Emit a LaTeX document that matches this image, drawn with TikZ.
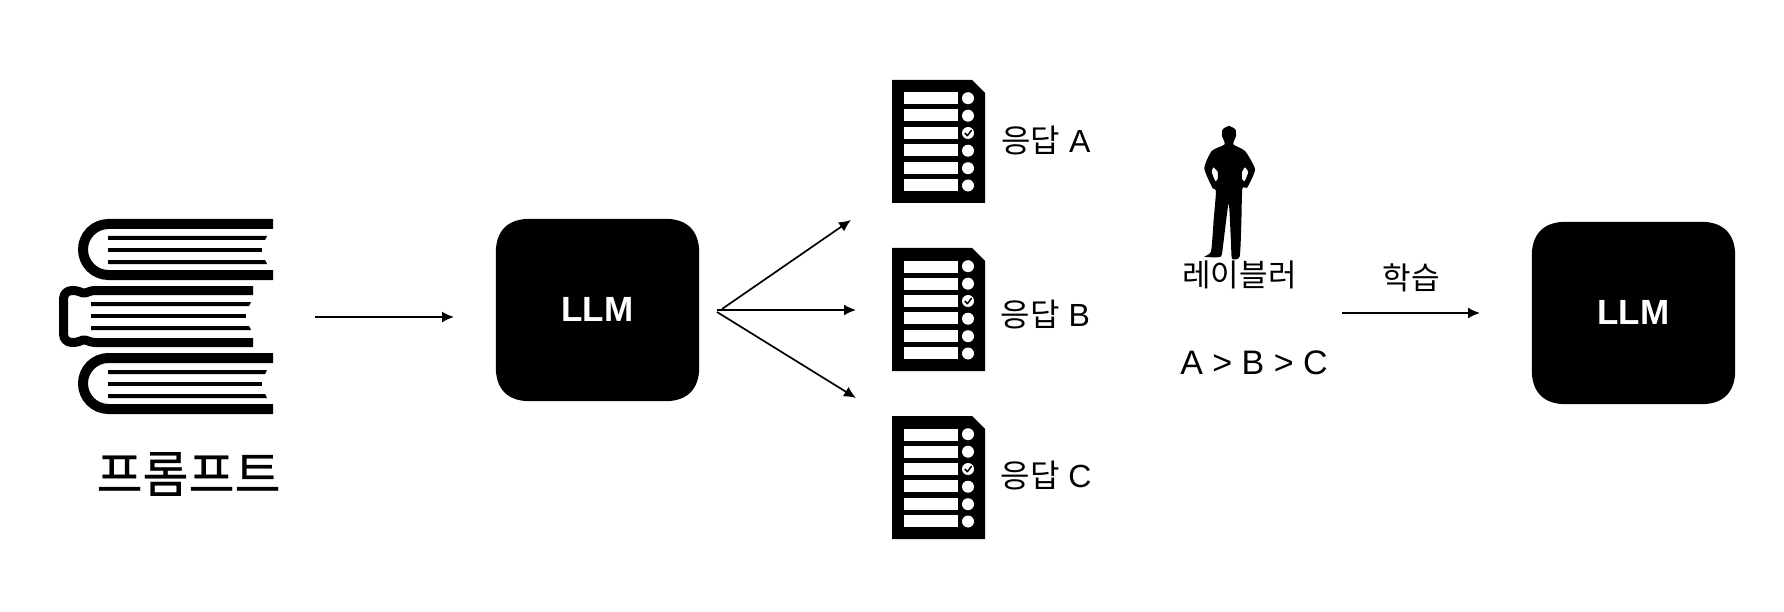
\documentclass[tikz,border=0pt]{standalone}
\usepackage{fontspec}
\setmainfont{Liberation Sans}
\newfontfamily\kr{Noto Sans CJK KR}
\newfontfamily\krb[FakeBold=0.6]{Noto Sans CJK KR}
\usetikzlibrary{arrows.meta,calc,backgrounds}
\newcommand{\squirclefill}[1]{%
  \fill ($(#1.north west)+(0,34)$) .. controls ($(#1.north west)+(0,12)$) and ($(#1.north west)+(12,0)$) .. ($(#1.north west)+(34,0)$)
   -- ($(#1.north east)+(-34,0)$) .. controls ($(#1.north east)+(-12,0)$) and ($(#1.north east)+(0,12)$) .. ($(#1.north east)+(0,34)$)
   -- ($(#1.south east)+(0,-34)$) .. controls ($(#1.south east)+(0,-12)$) and ($(#1.south east)+(-12,0)$) .. ($(#1.south east)+(-34,0)$)
   -- ($(#1.south west)+(34,0)$) .. controls ($(#1.south west)+(12,0)$) and ($(#1.south west)+(0,-12)$) .. ($(#1.south west)+(0,-34)$) -- cycle;}
\tikzset{
  x=1pt,y=-1pt,
  llmbox/.style={inner sep=0pt,minimum width=203pt,minimum height=182pt,text=white,font=\fontsize{35}{35}\selectfont\bfseries},
  lbl/.style={inner sep=0pt,font=\fontsize{32}{32}\selectfont,anchor=center},
  conn/.style={line width=1.7pt,-{Latex[length=12pt,width=11pt]}},
  pics/dockit/.style={code={
    \fill (0,0) -- (80,0) -- (93,13) -- (93,123) -- (0,123) -- cycle;
    \foreach \ya in {12.5,29.5,47,64,82,99}{
      \fill[white] (12,\ya) rectangle (66,\ya+12);
    }
    \foreach \ya in {18.2,35.7,70.7,88.2,105.5}{
      \fill[white] (76,\ya) circle[radius=6];
    }
    \fill[white] (76,53) circle[radius=6];
    \draw[black,line width=1.5pt,line cap=round,line join=round] (73,53.2) -- (75.3,55.7) -- (79.3,50.5);
  }},
  pics/openbook/.style={code={
    \draw[line width=10pt] (195,5) -- (30.5,5) arc[start angle=270,end angle=90,radius=25.5] -- (195,56);
    \foreach \ya/\xa/\xb in {17/189/187,29/184/184,41/187/189}{
      \fill (30,\ya) -- (\xa,\ya) -- (\xb,\ya+4) -- (30,\ya+4) -- cycle;
    }
  }},
  pics/spinebook/.style={code={
    \draw[line width=9pt,line join=round] (194,4.5) -- (36,4.5) .. controls (30,4.5) and (28,7.5) .. (24,7) .. controls (21,6) and (19,4.5) .. (13,4.5) .. controls (8,4.5) and (4.5,8) .. (4.5,13) -- (4.5,48) .. controls (4.5,53) and (8,56.5) .. (13,56.5) .. controls (19,56.5) and (21,55) .. (24,54) .. controls (28,53.5) and (30,56.5) .. (36,56.5) -- (194,56.5);
    \foreach \ya/\xa/\xb in {16/192/190,28/187/187,40/190/192}{
      \fill (32,\ya) -- (\xa,\ya) -- (\xb,\ya+4) -- (32,\ya+4) -- cycle;
    }
  }},
}
\begin{document}
\begin{tikzpicture}
\useasboundingbox (0,0) rectangle (1784,612);
\pic at (78,219) {openbook};
\pic at (59,286) {spinebook};
\pic at (78,353) {openbook};
\node[inner sep=0pt,font=\krb\fontsize{50}{50}\selectfont] (prompt) at (188.5,474) {프롬프트};
\node[llmbox] (llmA) at (597.5,310) {\raisebox{1pt}{LLM}};
\node[llmbox] (llmB) at (1633.5,313) {\raisebox{1pt}{LLM}};
\begin{scope}[on background layer]
\squirclefill{llmA}
\squirclefill{llmB}
\end{scope}
\pic at (892,80) {dockit};
\pic at (892,248) {dockit};
\pic at (892,416) {dockit};
\node[lbl] (ra) at (1046,141) {{\kr 응답} A};
\node[lbl] (rb) at (1045.5,315) {{\kr 응답} B};
\node[lbl] (rc) at (1046,476) {{\kr 응답} C};
\begin{scope}[shift={(1170,110)},x=0.3333pt,y=-0.3333pt]
\fill[even odd rule] plot[smooth cycle,tension=0.35] coordinates {
 (177,48) (196,58) (198,78) (190,103) (225,123) (255,178) (232,232) (217,236)
 (214,340) (209,440) (186,446) (183,400) (176,280) (160,400) (152,440) (103,440)
 (123,425) (131,330) (138,242) (128,235) (103,175) (125,123) (164,103) (156,78) (158,58)}
 plot[smooth cycle,tension=0.3] coordinates {(130,172) (125,186) (136,214) (143,207) (143,185)}
 plot[smooth cycle,tension=0.3] coordinates {(225,172) (235,186) (224,214) (216,207) (216,185)};
\end{scope}
\node[inner sep=0pt,font=\kr\fontsize{31}{31}\selectfont] (labeler) at (1239.5,275) {레이블러};
\node[inner sep=0pt,font=\fontsize{34}{34}\selectfont] (rank) at (1254,363) {A > B > C};
\node[inner sep=0pt,font=\kr\fontsize{31}{31}\selectfont] (train) at (1411,278) {학습};
\coordinate (c1) at (315,317);
\coordinate (c2) at (454,317);
\coordinate (f1) at (722,309);
\coordinate (f2) at (717,310);
\coordinate (f3) at (717,312);
\coordinate (t1) at (851,220);
\coordinate (t2) at (856,310);
\coordinate (t3) at (856,398);
\coordinate (c3) at (1342,313);
\coordinate (c4) at (1480,313);
\draw[conn] (c1) -- (c2);
\draw[conn] (f1) -- (t1);
\draw[conn] (f2) -- (t2);
\draw[conn] (f3) -- (t3);
\draw[conn] (c3) -- (c4);
\end{tikzpicture}
\end{document}
